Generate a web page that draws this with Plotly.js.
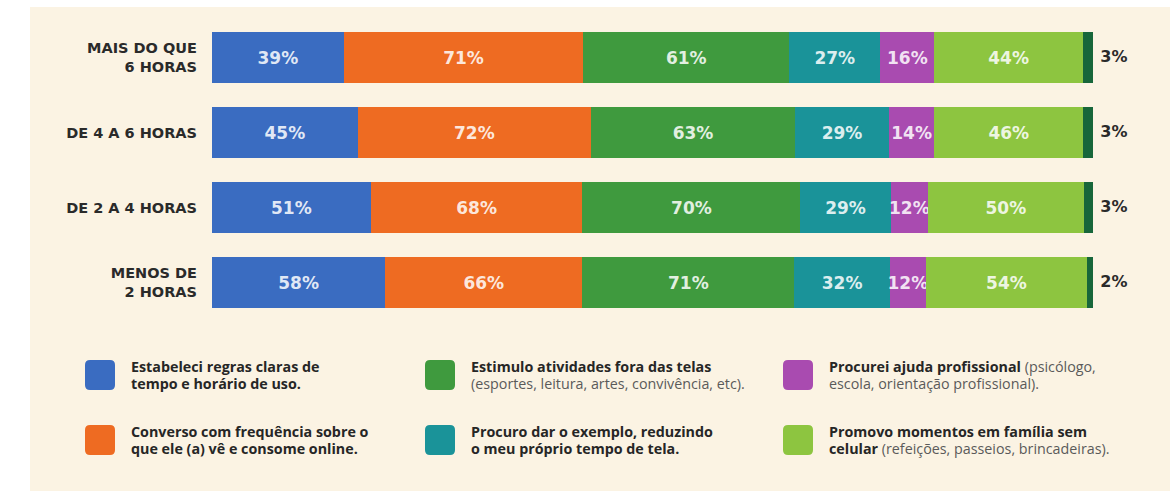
<!DOCTYPE html>
<html>
<head>
<meta charset="utf-8">
<script src="https://cdn.plot.ly/plotly-3.0.1.min.js"></script>
<style>
  html, body { margin: 0; padding: 0; background: #ffffff; }
  #chart { width: 1170px; height: 491px; }
</style>
</head>
<body>
<div id="chart"></div>
<script>
// ---- data ----
const categories = ["MAIS DO QUE<br>6 HORAS", "DE 4 A 6 HORAS", "DE 2 A 4 HORAS", "MENOS DE<br>2 HORAS"];
const regras    = [39, 45, 51, 58];
const converso  = [71, 72, 68, 66];
const estimulo  = [61, 63, 70, 71];
const exemplo   = [27, 29, 29, 32];
const ajuda     = [16, 14, 12, 12];
const familia   = [44, 46, 50, 54];
const outros    = [3, 3, 3, 2];

const seriesNames = [
  "Estabeleci regras claras de tempo e horário de uso.",
  "Converso com frequência sobre o que ele (a) vê e consome online.",
  "Estimulo atividades fora das telas (esportes, leitura, artes, convivência, etc).",
  "Procuro dar o exemplo, reduzindo o meu próprio tempo de tela.",
  "Procurei ajuda profissional (psicólogo, escola, orientação profissional).",
  "Promovo momentos em família sem celular (refeições, passeios, brincadeiras).",
  "Outros"
];
// legend text, two lines per entry
const legendLines = [
  ["<b>Estabeleci regras claras de</b>", "<b>tempo e horário de uso.</b>"],
  ["<b>Converso com frequência sobre o</b>", "<b>que ele (a) vê e consome online.</b>"],
  ["<b>Estimulo atividades fora das telas</b>", "<span style='color:#5a5a5a'>(esportes, leitura, artes, convivência, etc).</span>"],
  ["<b>Procuro dar o exemplo, reduzindo</b>", "<b>o meu próprio tempo de tela.</b>"],
  ["<b>Procurei ajuda profissional</b><span style='color:#5a5a5a'> (psicólogo,</span>", "<span style='color:#5a5a5a'>escola, orientação profissional).</span>"],
  ["<b>Promovo momentos em família sem</b>", "<b>celular</b><span style='color:#5a5a5a'> (refeições, passeios, brincadeiras).</span>"]
];
const colors = ["#3a6cc1", "#ee6b22", "#3f9a3e", "#1a9399", "#a94bb0", "#8dc540", "#17663a"];
const seriesValues = [regras, converso, estimulo, exemplo, ajuda, familia, outros];

// ---- geometry helpers (layout only) ----
const W = 1170, H = 491;
const M = {l: 212, r: 77, t: 20, b: 171};
const PW = W - M.l - M.r, PH = H - M.t - M.b;
const fx = px => (px - M.l) / PW;
const fy = py => (H - M.b - py) / PH;

// ---- traces ----
const traces = seriesValues.map((vals, i) => {
  const last = i === seriesValues.length - 1;
  return {
    type: "bar",
    orientation: "h",
    name: seriesNames[i],
    y: categories,
    x: vals,
    text: last ? null : vals.map(v => v + "%"),
    textposition: last ? "none" : "inside",
    insidetextanchor: "middle",
    textangle: 0,
    constraintext: "none",
    cliponaxis: false,
    textfont: {family: "DejaVu Sans", size: 17, color: "rgba(255,255,255,0.86)", weight: "bold"},
    marker: {color: colors[i], line: {width: 0}},
    hoverinfo: "skip",
    showlegend: false
  };
});
// labels for the last (thin) segment, placed just past the end of each bar
traces.push({
  type: "scatter",
  mode: "markers+text",
  y: categories,
  x: categories.map(() => 100),
  text: outros.map(v => v + "%"),
  textposition: "middle right",
  marker: {size: 10, color: "rgba(0,0,0,0)"},
  textfont: {family: "DejaVu Sans", size: 16, color: "#2a2a2a", weight: "bold"},
  cliponaxis: false,
  hoverinfo: "skip",
  showlegend: false
});

// ---- custom legend (swatches + labels) ----
const shapes = [
  {type: "rect", xref: "paper", yref: "paper", x0: fx(0), x1: fx(W), y0: fy(0), y1: fy(7),
   fillcolor: "#ffffff", line: {width: 0}, layer: "below"},
  {type: "rect", xref: "paper", yref: "paper", x0: fx(0), x1: fx(30), y0: fy(0), y1: fy(H),
   fillcolor: "#ffffff", line: {width: 0}, layer: "below"}
];
const annotations = [];
const legendOrder = [[0, 1], [2, 3], [4, 5]]; // columns
const colX = [85, 425, 783];
const rowY = [375, 440];
const S = 30, R = 5, LINE = 17;
legendOrder.forEach((col, c) => {
  col.forEach((si, r) => {
    const x0 = colX[c], y0 = rowY[r] - S / 2, x1 = x0 + S, y1 = y0 + S;
    const p = (x, y) => fx(x) + "," + fy(y);
    const path = "M" + p(x0 + R, y0) + " L" + p(x1 - R, y0) + " Q" + p(x1, y0) + " " + p(x1, y0 + R) +
      " L" + p(x1, y1 - R) + " Q" + p(x1, y1) + " " + p(x1 - R, y1) +
      " L" + p(x0 + R, y1) + " Q" + p(x0, y1) + " " + p(x0, y1 - R) +
      " L" + p(x0, y0 + R) + " Q" + p(x0, y0) + " " + p(x0 + R, y0) + " Z";
    shapes.push({type: "path", xref: "paper", yref: "paper", path: path,
      fillcolor: colors[si], line: {width: 0}});
    legendLines[si].forEach((ln, k) => {
      annotations.push({
        xref: "paper", yref: "paper", x: fx(x0 + 44), y: fy(rowY[r] + (k - 0.5) * LINE),
        xanchor: "left", yanchor: "middle", align: "left", showarrow: false,
        text: ln,
        font: {family: "Open Sans", size: 14.3, color: "#262626"}
      });
    });
  });
});

const layout = {
  width: W, height: H,
  margin: M,
  paper_bgcolor: "#fbf3e3",
  plot_bgcolor: "rgba(0,0,0,0)",
  barmode: "stack",
  barnorm: "percent",
  bargap: 0.32,
  showlegend: false,
  xaxis: {range: [0, 100], visible: false, fixedrange: true},
  yaxis: {
    autorange: "reversed",
    showgrid: false, zeroline: false, showline: false, ticks: "",
    ticklabelstandoff: 14,
    tickfont: {family: "DejaVu Sans", size: 14.5, color: "#2a2a2a", weight: "bold"},
    fixedrange: true
  },
  shapes: shapes,
  annotations: annotations
};

Plotly.newPlot("chart", traces, layout, {displayModeBar: false, staticPlot: true});
</script>
</body>
</html>
